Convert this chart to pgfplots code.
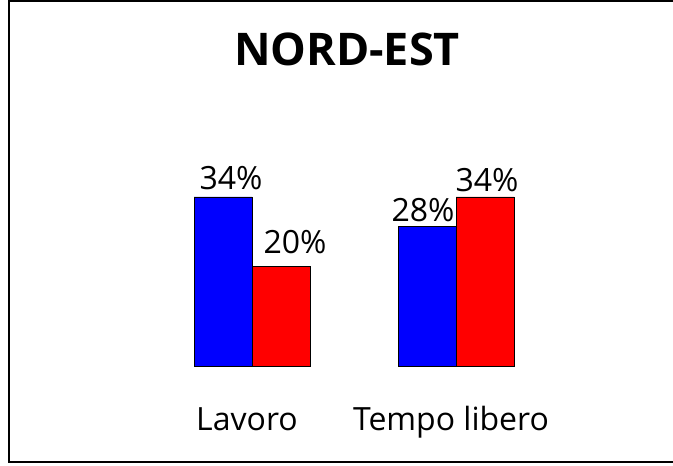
\documentclass[border=0pt]{standalone}
\usepackage{fontspec}
\setmainfont{Open Sans}
\usepackage{pgfplots}
\usepackage{pgfplotstable}
\pgfplotsset{compat=1.18}
\pgfplotstableread{
x y dx dy
0 34 8 7
1 28 -4 5
}\bluedata
\pgfplotstableread{
x y dx dy
0 20 14 12
1 34 2 5
}\reddata
\begin{document}
\begin{tikzpicture}
\begin{axis}[
  at={(0,0)}, anchor=south west,
  scale only axis,
  width=673pt, height=466pt,
  xmin=-1.2353, xmax=2.0637,
  ymin=-20.12, ymax=73.63,
  ybar=0pt, bar width=58pt,
  axis line style={draw=none},
  major tick length=0pt,
  ytick=\empty,
  xtick={0,1},
  xticklabels={Lavoro, Tempo libero},
  xticklabel style={anchor=base, yshift=35pt, xshift=-5pt, font=\fontsize{32}{38}\selectfont},
  /pgf/number format/assume math mode=true,
  visualization depends on={\thisrow{dx} \as \dx},
  visualization depends on={\thisrow{dy} \as \dy},
  nodes near coords={\pgfmathprintnumber{\pgfplotspointmeta}\%},
  every node near coord/.append style={font=\fontsize{32}{38}\selectfont, inner sep=0pt, xshift=\dx pt, yshift=\dy pt, black},
  title={NORD-EST},
  title style={at={(axis description cs:0.5156,0.8455)}, anchor=base, font=\bfseries\fontsize{45}{52}\selectfont},
  clip=false,
]
\addplot[fill={rgb,255:red,0;green,0;blue,255}, draw=black, line width=0.8pt] table[x=x, y=y] {\bluedata};
\addplot[fill={rgb,255:red,255;green,0;blue,0}, draw=black, line width=0.8pt] table[x=x, y=y] {\reddata};
\end{axis}
\draw[line width=2pt] (673pt,465.2pt) -- (9.2pt,465.2pt) -- (9.2pt,3.5pt) -- (673pt,3.5pt);
\pgfresetboundingbox
\path[use as bounding box] (0,0) rectangle (673pt,466pt);
\end{tikzpicture}
\end{document}
